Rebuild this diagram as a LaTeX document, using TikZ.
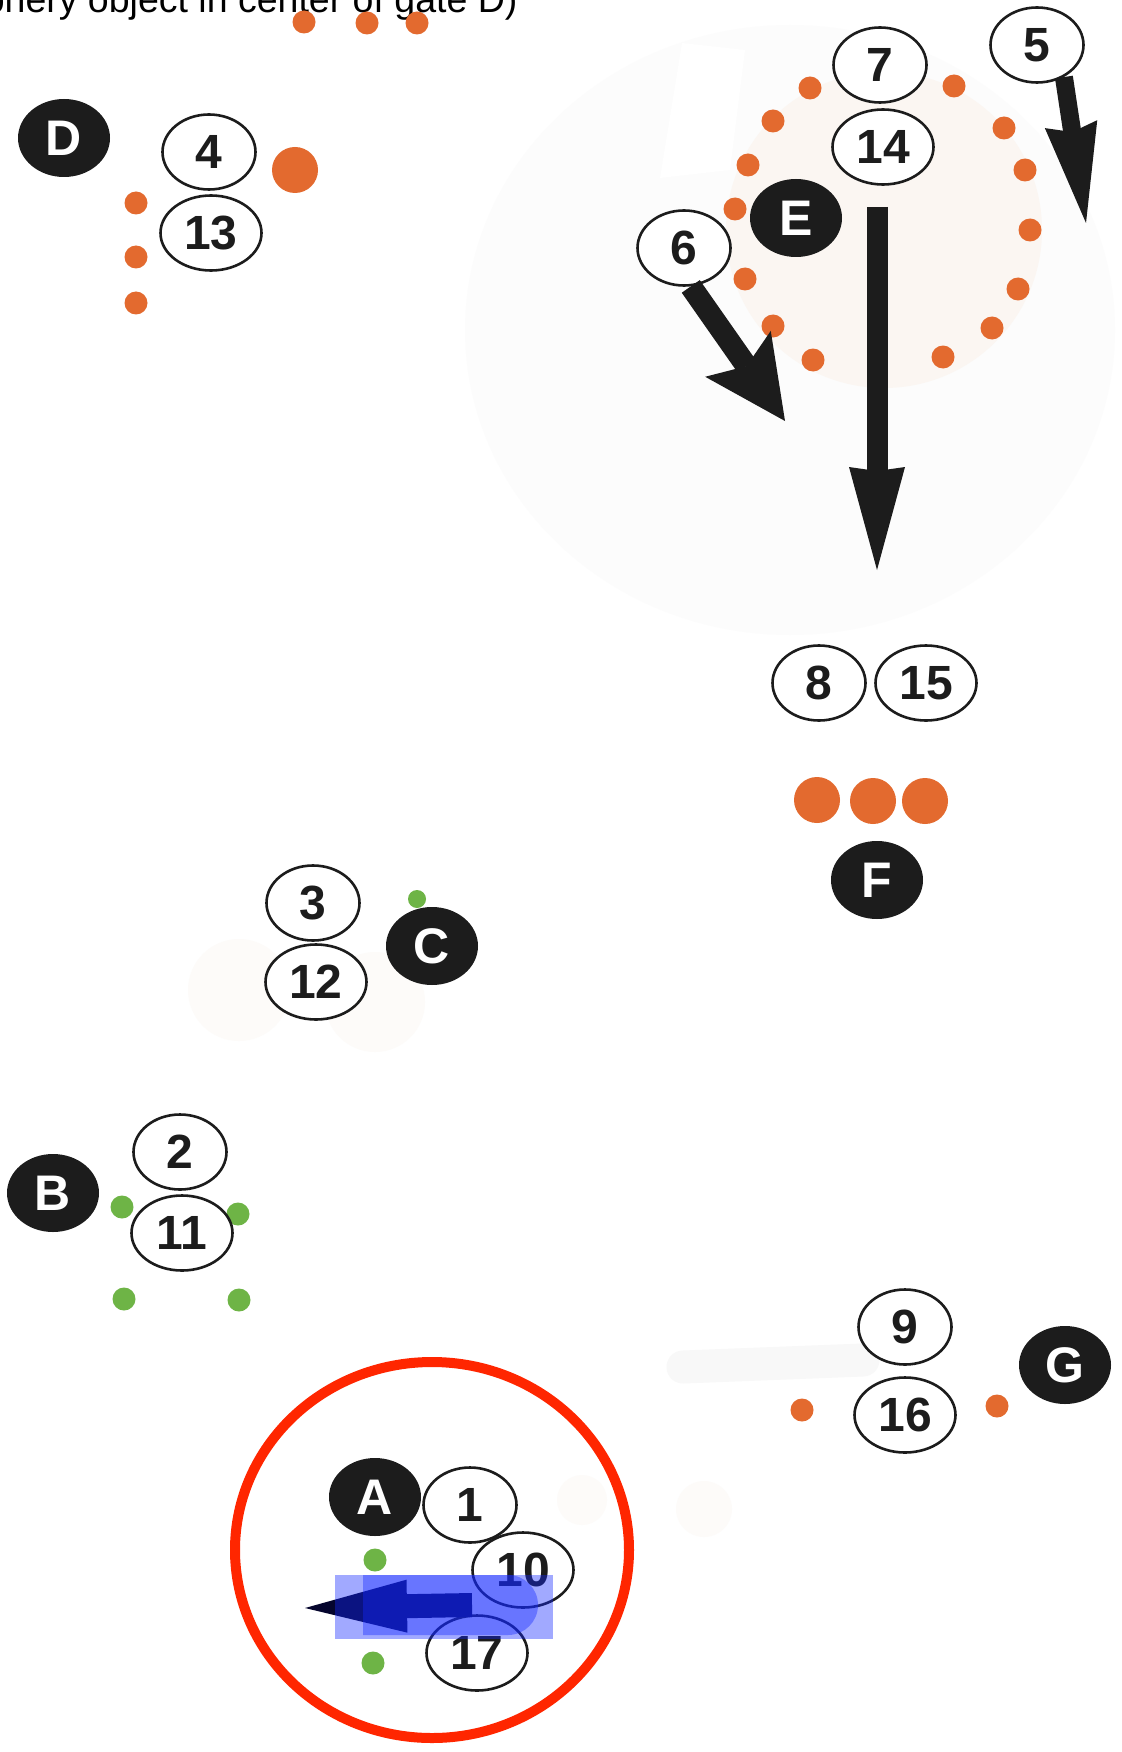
\documentclass[tikz,border=0pt]{standalone}
\usepackage{fontspec}
\setmainfont{Liberation Sans}
\usetikzlibrary{shapes.geometric,arrows.meta,positioning}

\definecolor{torschwarz}{RGB}{28,28,28}
\definecolor{punktorange}{RGB}{227,106,47}
\definecolor{punktgruen}{RGB}{110,180,70}
\definecolor{kreisrot}{RGB}{255,38,0}
\definecolor{hauchgrau}{RGB}{252,252,252}
\definecolor{strichgrau}{RGB}{248,248,248}
\definecolor{hauchbeige}{RGB}{251,246,242}
\definecolor{pfeilblau}{RGB}{5,5,45}
\definecolor{markblau}{RGB}{20,40,255}

\tikzset{
  nummer/.style={ellipse, draw=torschwarz, line width=2.6pt, fill=white, inner sep=0pt,
    minimum width=93pt, minimum height=75pt, text=torschwarz,
    font=\fontsize{48}{48}\selectfont\bfseries},
  breit/.style={minimum width=101pt},
  tor/.style={ellipse, fill=torschwarz, inner sep=0pt, minimum width=92pt,
    minimum height=78pt, text=white, font=\fontsize{50}{50}\selectfont\bfseries},
  laufpfeil/.style={torschwarz, line width=#1},
  markierung/.style={markblau, fill opacity=0.4},
}

\begin{document}
\begin{tikzpicture}[x=1pt,y=-1pt]
    \useasboundingbox (0,0) rectangle (1121,1752);
    \fill[white] (0,0) rectangle (1121,1752);

    % Hintergrund
    \fill[hauchgrau] (790,330) ellipse [x radius=325, y radius=305];
    \fill[white] (682,43) -- (745,50) -- (730,170) -- (660,178) -- cycle;
    \fill[hauchbeige] (884,230) circle [radius=158];
    \fill[hauchbeige!45] (239,990) circle [radius=51];
    \fill[hauchbeige!45] (375,1002) circle [radius=50];
    \draw[strichgrau, line width=33pt, line cap=round] (683,1367) -- (863,1360);
    \fill[hauchbeige!45] (582,1500) circle [radius=25];
    \fill[hauchbeige!45] (704,1509) circle [radius=28];

    \node[anchor=base east, font=\fontsize{37.5}{44}\selectfont] (titel) at (521,13)
        {(periphery object in center of gate D)};

    % Punkte
    \foreach \x/\y in {304/22,367/23,417/23,136/203,136/257,136/303,802/1410,997/1406}
        \fill[punktorange] (\x,\y) circle [radius=11.5];
    \foreach \x/\y in {810/88,773/121,748/165,735/209,745/279,773/326,813/360,
                       954/86,1004/128,1025/170,1030/230,1018/289,992/328,943/357}
        \fill[punktorange] (\x,\y) circle [radius=11.5];
    \foreach \x/\y in {295/170,817/800,873/801,925/801}
        \fill[punktorange] (\x,\y) circle [radius=23];
    \foreach \x/\y in {375/1560,373/1663,122/1207,238/1214,124/1299,239/1300}
        \fill[punktgruen] (\x,\y) circle [radius=11.5];
    \fill[punktgruen] (417,899) circle [radius=9];

    % Tore
    \node[tor] (torA) at (375,1497) {A};
    \node[tor] (torB) at (53,1193) {B};
    \node[tor] (torC) at (432,946) {C};
    \node[tor] (torD) at (64,138) {D};
    \node[tor] (torE) at (796,218) {E};
    \node[tor] (torF) at (877,880) {F};
    \node[tor] (torG) at (1065,1365) {G};

    % Nummern
    \node[nummer] (n1) at (470,1505) {1};
    \node[nummer] (n2) at (180,1152) {2};
    \node[nummer] (n3) at (313,903) {3};
    \node[nummer] (n4) at (209,152) {4};
    \node[nummer] (n5) at (1037,45) {5};
    \node[nummer] (n6) at (684,248) {6};
    \node[nummer] (n7) at (880,65) {7};
    \node[nummer] (n8) at (819,683) {8};
    \node[nummer] (n9) at (905,1327) {9};
    \node[nummer,breit] (n10) at (523,1570) {10};
    \node[nummer,breit] (n11) at (182,1233) {11};
    \node[nummer,breit] (n12) at (316,982) {12};
    \node[nummer,breit] (n13) at (211,233) {13};
    \node[nummer,breit] (n14) at (883,147) {14};
    \node[nummer,breit] (n15) at (926,683) {15};
    \node[nummer,breit] (n16) at (905,1415) {16};
    \node[nummer,breit] (n17) at (477,1653) {17};

    % Pfeile
    \coordinate (spitze5) at (1086,223);
    \coordinate (spitze6) at (785,421);
    \coordinate (spitze14) at (877,570);
    \draw[laufpfeil=18pt, -{Stealth[length=100pt,width=53pt,inset=8pt,line width=0pt]}]
        (n5.-50) -- (spitze5);
    \draw[laufpfeil=22pt, -{Stealth[length=82pt,width=80pt,inset=15pt,line width=0pt]}]
        (n6.-80) -- (spitze6);
    \draw[laufpfeil=21pt, -{Stealth[length=103pt,width=56pt,inset=4pt,line width=0pt]}]
        ([xshift=-6pt,yshift=-21pt]n14.south) -- (spitze14);

    % Markierung bei A
    \coordinate (spitzeA) at (305,1608);
    \draw[pfeilblau, line width=24pt, -{Triangle[length=102pt,width=53pt,line width=0pt]}]
        (472,1605) -- (spitzeA);
    \fill[markierung] (335,1575) rectangle (553,1639);
    \fill[markierung] (363,1575) -- (508,1575) arc [start angle=-90, end angle=90, radius=30]
        -- (363,1635) -- cycle;

    \draw[kreisrot, line width=10pt] (432,1550) ellipse [x radius=197, y radius=188];
\end{tikzpicture}
\end{document}
